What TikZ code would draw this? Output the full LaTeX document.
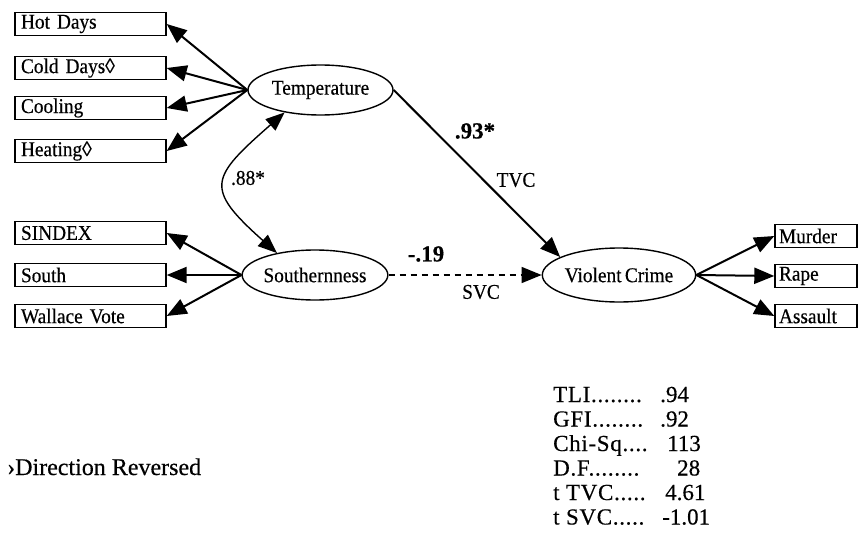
\documentclass[tikz,border=0pt]{standalone}
\usepackage{fontspec}
\setmainfont{Liberation Serif}[FakeBold=0.4]
\newfontfamily\condfont{Liberation Serif}[FakeStretch=0.92,FakeBold=0.4,WordSpace=0.7]
\newfontfamily\statfont{Liberation Serif}[LetterSpace=3,FakeBold=0.4]
\usetikzlibrary{arrows.meta,shapes.geometric}
\begin{document}
\begin{tikzpicture}[x=1pt,y=-1pt,
  obs/.style={draw,line width=1.4pt,minimum height=23pt,inner ysep=0pt,align=left,font=\condfont\fontsize{21}{23}\selectfont},
  lobs/.style={obs,text width=139pt,inner xsep=6pt},
  robs/.style={obs,text width=74pt,inner xsep=4pt},
  lat/.style={draw,ellipse,line width=1.4pt,inner sep=0pt,font=\condfont\fontsize{21}{24}\selectfont},
  pathar/.style={line width=2pt,-{Triangle[length=20pt,width=16pt]}},
  lbl/.style={font=\condfont\fontsize{21}{24}\selectfont,inner sep=0pt},
  blbl/.style={font=\fontsize{23}{26}\selectfont\bfseries,inner sep=0pt},
  stat/.style={font=\fontsize{23}{26}\selectfont,inner sep=0pt,anchor=base west},
  statl/.style={stat,font=\statfont\fontsize{23}{26}\selectfont}]
\useasboundingbox (0,0) rectangle (858,535);
% latent variables
\node[lat,minimum width=145pt,minimum height=50pt] (temp) at (320.5,90) {Temperature};
\node[lat,minimum width=140pt,minimum height=50pt] (sou) at (315,275) {Southernness};
\node[lat,minimum width=142pt,minimum height=54pt] (vc) at (619,275) {Violent Crime};
% left indicators
\node[lobs] (hot) at (90.5,24) {Hot Days};
\node[lobs] (cold) at (90.5,68) {Cold Days◊};
\node[lobs] (cool) at (90.5,108) {Cooling};
\node[lobs] (heat) at (90.5,151) {Heating◊};
\node[lobs] (sindex) at (90.5,233) {SINDEX};
\node[lobs] (south) at (90.5,275) {South};
\node[lobs] (wall) at (90.5,316) {Wallace Vote};
% right indicators
\node[robs] (mur) at (816,236) {Murder};
\node[robs] (rape) at (816,276) {Rape};
\node[robs] (ass) at (816,316) {Assault};
% loadings
\foreach \b in {hot,cold,cool,heat} \draw[pathar] (temp.west) -- (\b.east);
\foreach \b in {sindex,south,wall} \draw[pathar] (sou.west) -- (\b.east);
\foreach \b in {mur,rape,ass} \draw[pathar] (vc.east) -- (\b.west);
% structural paths
\draw[pathar] (temp.east) -- (vc.163);
\draw[line width=1.4pt,dash pattern=on 6pt off 5pt,-{Triangle[length=20pt,width=16pt]}] (sou.east) -- (vc.west);
\draw[line width=1.4pt,{Triangle[length=19pt,width=15pt]}-{Triangle[length=19pt,width=15pt]}]
  (sou.150) .. controls (204,188) and (210,178) .. (temp.212);
% path labels
\node[blbl] (l93) at (475,131) {.93*};
\node[lbl] (ltvc) at (516,180) {TVC};
\node[blbl] (l19) at (426,254) {-.19};
\node[lbl] (lsvc) at (481,292) {SVC};
\node[lbl] (l88) at (248,178) {.88*};
% note
\node[font=\fontsize{24}{27}\selectfont,inner sep=0pt,anchor=base west] (note) at (7,475) {›Direction Reversed};
% fit statistics
\node[statl] (s1l) at (553,402) {TLI........};
\node[stat] (s1v) at (660,402) {.94};
\node[statl] (s2l) at (553,426.5) {GFI........};
\node[stat] (s2v) at (660,426.5) {.92};
\node[statl] (s3l) at (553,451) {Chi-Sq....};
\node[stat] (s3v) at (667,451) {113};
\node[statl] (s4l) at (553,475.5) {D.F........};
\node[stat] (s4v) at (677,475.5) {28};
\node[statl] (s5l) at (553,500) {t TVC.....};
\node[stat] (s5v) at (665,500) {4.61};
\node[statl] (s6l) at (553,524.5) {t SVC.....};
\node[stat] (s6v) at (662,524.5) {-1.01};
\end{tikzpicture}
\end{document}
